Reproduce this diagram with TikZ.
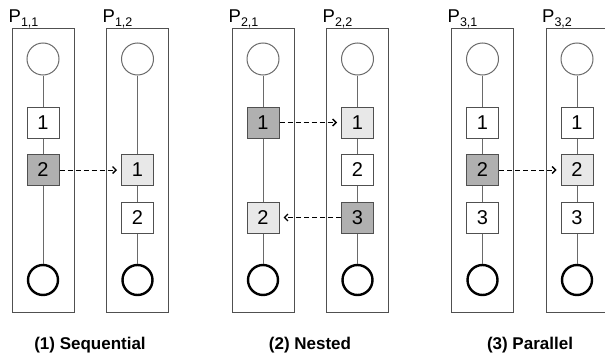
\documentclass[tikz,border=0pt]{standalone}
\usepackage{fontspec}
\setmainfont{Liberation Sans}
\usetikzlibrary{arrows.meta}

\definecolor{boxgray}{HTML}{505050}
\definecolor{linegray}{HTML}{6A6A6A}
\definecolor{busyfill}{HTML}{B0B0B0}
\definecolor{waitfill}{HTML}{E8E8E8}

\newcommand{\plabel}[2]{{\fontsize{18.5}{18}\selectfont P}\raisebox{-3.5pt}{\fontsize{12.5}{12}\selectfont #1,#2}}

\begin{document}
\begin{tikzpicture}[x=1pt,y=-1pt,
    proc/.style={draw=boxgray,line width=1pt,minimum width=62pt,minimum height=284pt,inner sep=0pt},
    task/.style={draw=boxgray,line width=1pt,fill=white,minimum width=32pt,minimum height=31pt,inner sep=0pt,font=\fontsize{20}{20}\selectfont},
    busy/.style={task,fill=busyfill},
    wait/.style={task,fill=waitfill},
    start/.style={circle,draw=linegray,line width=1pt,fill=white,minimum size=32pt,inner sep=0pt},
    stop/.style={circle,draw=black,line width=2.4pt,fill=white,minimum size=30pt,inner sep=0pt},
    plab/.style={anchor=base west,inner sep=0pt},
    caption/.style={anchor=base,inner sep=0pt,font=\fontsize{17}{17}\selectfont\bfseries},
    link/.style={draw=linegray,line width=1pt},
    msg/.style={draw=black,line width=1pt,dash pattern=on 5pt off 3pt,-{Straight Barb[length=3.5pt,width=7pt,line width=1.4pt]},shorten >=4pt}]
    \useasboundingbox (0,0) rectangle (605,356);
    \clip (0,0) rectangle (605,356);

    % Drawing group 1: sequential
    \node [proc] (p11) at (43,170) {};
    \node [proc] (p12) at (137.5,170) {};
    \node [plab] (l11) at (8.5,22.5) {\plabel{1}{1}};
    \node [plab] (l12) at (102.5,22.5) {\plabel{1}{2}};

    % Marking tasks of P 1,1
    \node [start] (p11s) at (43,59) {};
    \node [task] (p11a) at (43,122.5) {1};
    \node [busy] (p11b) at (43,170) {2};
    \node [stop] (p11e) at (43,280) {};
    \path [link] (p11s) -- (p11a) -- (p11b) -- (p11e);

    % Marking tasks of P 1,2
    \node [start] (p12s) at (137.5,59) {};
    \node [wait] (p12a) at (137.5,170) {1};
    \node [task] (p12b) at (137.5,217.5) {2};
    \node [stop] (p12e) at (137.5,280) {};
    \path [link] (p12s) -- (p12a) -- (p12b) -- (p12e);

    \draw [msg] (p11b) -- (p12a);
    \node [caption] (c1) at (90,349) {(1) Sequential};

    % Drawing group 2: nested
    \node [proc] (p21) at (263,170) {};
    \node [proc] (p22) at (357.5,170) {};
    \node [plab] (l21) at (228.5,22.5) {\plabel{2}{1}};
    \node [plab] (l22) at (322.5,22.5) {\plabel{2}{2}};

    % Marking tasks of P 2,1
    \node [start] (p21s) at (263,59) {};
    \node [busy] (p21a) at (263,122.5) {1};
    \node [wait] (p21b) at (263,217.5) {2};
    \node [stop] (p21e) at (263,280) {};
    \path [link] (p21s) -- (p21a) -- (p21b) -- (p21e);

    % Marking tasks of P 2,2
    \node [start] (p22s) at (357.5,59) {};
    \node [wait] (p22a) at (357.5,122.5) {1};
    \node [task] (p22b) at (357.5,170) {2};
    \node [busy] (p22c) at (357.5,217.5) {3};
    \node [stop] (p22e) at (357.5,280) {};
    \path [link] (p22s) -- (p22a) -- (p22b) -- (p22c) -- (p22e);

    \draw [msg] (p21a) -- (p22a);
    \draw [msg] (p22c) -- (p21b);
    \node [caption] (c2) at (310,349) {(2) Nested};

    % Drawing group 3: parallel
    \node [proc] (p31) at (482.5,170) {};
    \node [proc] (p32) at (577,170) {};
    \node [plab] (l31) at (447.5,22.5) {\plabel{3}{1}};
    \node [plab] (l32) at (542,22.5) {\plabel{3}{2}};

    % Marking tasks of P 3,1
    \node [start] (p31s) at (482.5,59) {};
    \node [task] (p31a) at (482.5,122.5) {1};
    \node [busy] (p31b) at (482.5,170) {2};
    \node [task] (p31c) at (482.5,217.5) {3};
    \node [stop] (p31e) at (482.5,280) {};
    \path [link] (p31s) -- (p31a) -- (p31b) -- (p31c) -- (p31e);

    % Marking tasks of P 3,2
    \node [start] (p32s) at (577,59) {};
    \node [task] (p32a) at (577,122.5) {1};
    \node [wait] (p32b) at (577,170) {2};
    \node [task] (p32c) at (577,217.5) {3};
    \node [stop] (p32e) at (577,280) {};
    \path [link] (p32s) -- (p32a) -- (p32b) -- (p32c) -- (p32e);

    \draw [msg] (p31b) -- (p32b);
    \node [caption] (c3) at (530,349) {(3) Parallel};
\end{tikzpicture}
\end{document}
